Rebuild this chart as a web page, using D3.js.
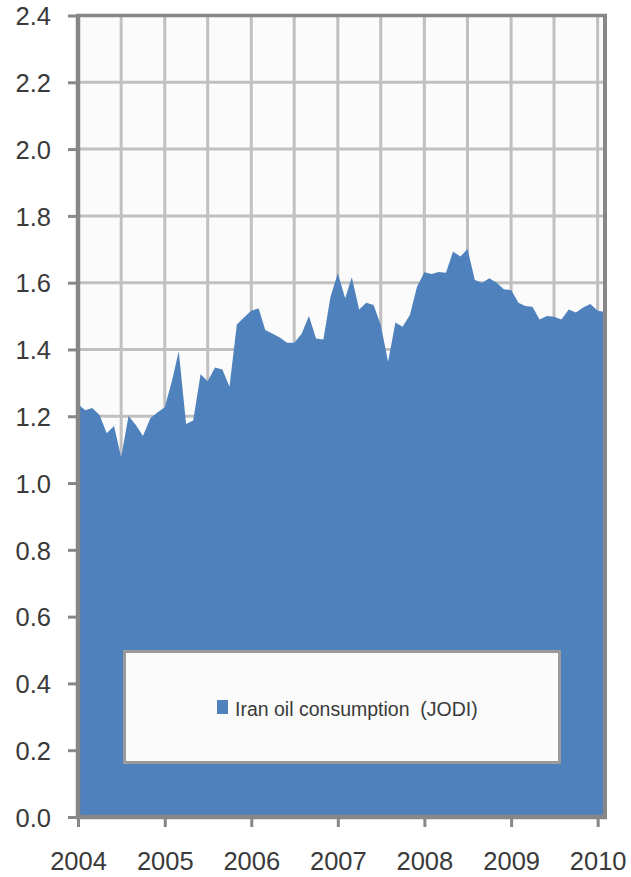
<!DOCTYPE html>
<html>
<head>
<meta charset="utf-8">
<script src="https://cdn.jsdelivr.net/npm/d3@7"></script>
<style>
  body { margin: 0; background: #fff; }
  svg text { font-family: "Liberation Sans", Arial, sans-serif; fill: #3a3a3a; }
</style>
</head>
<body>
<svg width="631" height="877"></svg>
<script>
// monthly Iran oil consumption (million b/d), Jan 2004 .. Feb 2010
var firstMonth = '2004-01';
var consumption = [
    1.236, 1.218, 1.225, 1.204, 1.149, 1.171, 1.077, 1.201, 1.174, 1.141, 1.194, 1.211,
    1.227, 1.308, 1.395, 1.177, 1.187, 1.326, 1.305, 1.346, 1.340, 1.288, 1.475, 1.496,
    1.516, 1.523, 1.458, 1.447, 1.436, 1.420, 1.420, 1.446, 1.500, 1.433, 1.430, 1.558,
    1.628, 1.553, 1.616, 1.520, 1.540, 1.533, 1.473, 1.363, 1.481, 1.468, 1.503, 1.588,
    1.631, 1.626, 1.632, 1.630, 1.693, 1.678, 1.701, 1.608, 1.600, 1.613, 1.600, 1.580,
    1.578, 1.540, 1.530, 1.528, 1.490, 1.500, 1.498, 1.490, 1.520, 1.511, 1.526, 1.536,
    1.516, 1.512
];
var yearLabels = ['2004', '2005', '2006', '2007', '2008', '2009', '2010'];
var yTicks = [0, 0.2, 0.4, 0.6, 0.8, 1.0, 1.2, 1.4, 1.6, 1.8, 2.0, 2.2, 2.4];
var seriesName = 'Iran oil consumption  (JODI)';

var svg = d3.select('svg');
var parseMonth = d3.utcParse('%Y-%m');
var start = parseMonth(firstMonth);

var data = consumption.map(function(v, i) {
    return { date: d3.utcMonth.offset(start, i), value: v };
});

var plotLeft = 78, plotRight = 605, plotTop = 15.5, plotBottom = 817;
var axisColor = '#878787';

var x = d3.scaleUtc()
    .domain([start, data[data.length - 1].date])
    .range([plotLeft, plotRight]);
var y = d3.scaleLinear()
    .domain([0, 2.4])
    .range([plotBottom, plotTop]);

// plot background
svg.append('rect')
    .attr('x', plotLeft).attr('y', plotTop)
    .attr('width', plotRight - plotLeft).attr('height', plotBottom - plotTop)
    .attr('fill', '#fbfbfb');

// gridlines, every half year and every 0.2
var halfYears = d3.utcMonth.every(6).range(start, data[data.length - 1].date);
svg.append('g').selectAll('line')
    .data(halfYears.slice(1))
    .enter().append('line')
    .attr('x1', function(d) { return x(d); })
    .attr('x2', function(d) { return x(d); })
    .attr('y1', plotTop).attr('y2', plotBottom)
    .attr('stroke', '#c0c0c0').attr('stroke-width', 3);

svg.append('g').selectAll('line')
    .data(yTicks.slice(1, -1))
    .enter().append('line')
    .attr('x1', plotLeft).attr('x2', plotRight)
    .attr('y1', function(d) { return y(d); })
    .attr('y2', function(d) { return y(d); })
    .attr('stroke', '#c0c0c0').attr('stroke-width', 3);

// the area
var area = d3.area()
    .x(function(d) { return x(d.date); })
    .y0(y(0))
    .y1(function(d) { return y(d.value); });

svg.append('path')
    .datum(data)
    .attr('d', area)
    .attr('fill', '#4f81bd');

// frame
svg.append('line')
    .attr('x1', plotLeft - 2).attr('x2', plotRight + 2).attr('y1', plotTop).attr('y2', plotTop)
    .attr('stroke', axisColor).attr('stroke-width', 3.5);
svg.append('line')
    .attr('x1', plotRight).attr('x2', plotRight).attr('y1', plotTop).attr('y2', plotBottom)
    .attr('stroke', axisColor).attr('stroke-width', 4);

// y axis
var yAxis = d3.axisLeft(y)
    .tickValues(yTicks)
    .tickSize(10)
    .tickPadding(17)
    .tickFormat(d3.format('.1f'));
var yG = svg.append('g')
    .attr('transform', 'translate(' + plotLeft + ',0)')
    .call(yAxis);

// x axis
var yearDates = yearLabels.map(function(s) { return d3.utcParse('%Y')(s); });
var xAxis = d3.axisBottom(x)
    .tickValues(yearDates)
    .tickSize(10)
    .tickPadding(25)
    .tickFormat(d3.utcFormat('%Y'));
var xG = svg.append('g')
    .attr('transform', 'translate(0,' + plotBottom + ')')
    .call(xAxis);

[yG, xG].forEach(function(g) {
    g.select('.domain').attr('stroke', axisColor).attr('stroke-width', 4.5);
    g.selectAll('.tick line').attr('stroke', axisColor).attr('stroke-width', 3);
    g.selectAll('.tick text')
        .style('font-size', '25.5px')
        .attr('fill', '#3a3a3a');
});
yG.select('.domain').attr('d', 'M0,' + (plotTop - 1.5) + 'V' + (plotBottom + 2));
xG.select('.domain').attr('d', 'M' + (plotLeft - 2) + ',0H' + (plotRight + 2));
yG.selectAll('.tick text').attr('dy', '0.36em');
xG.selectAll('.tick text').attr('dy', '0.71em');

// legend
var legend = svg.append('g');
legend.append('rect')
    .attr('x', 124.5).attr('y', 651.5)
    .attr('width', 435).attr('height', 111)
    .attr('fill', '#fbfbfb')
    .attr('stroke', '#9a9a9a')
    .attr('stroke-width', 3);
legend.append('rect')
    .attr('x', 217).attr('y', 700)
    .attr('width', 11).attr('height', 14)
    .attr('fill', '#4f81bd');
legend.append('text')
    .attr('x', 235).attr('y', 716)
    .style('font-size', '19.5px')
    .style('white-space', 'pre')
    .text(seriesName);
</script>
</body>
</html>
